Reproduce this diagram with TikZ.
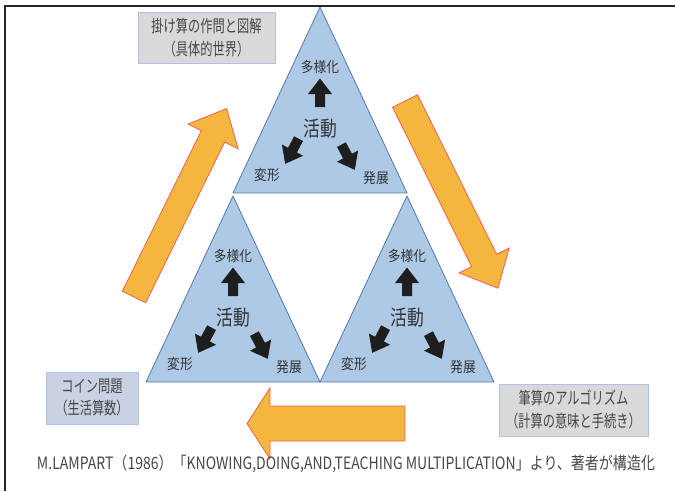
\documentclass[tikz,border=0pt]{standalone}
\usepackage{fontspec}
\usepackage{graphicx}
\setmainfont{Noto Sans CJK JP}
\definecolor{triblue}{RGB}{173,201,229}
\definecolor{triedge}{RGB}{84,120,170}
\definecolor{oranfill}{RGB}{244,182,63}
\definecolor{oranedge}{RGB}{240,96,80}
\definecolor{graybox}{RGB}{217,217,217}
\definecolor{bluebox}{RGB}{200,210,226}
\definecolor{boxedge}{RGB}{170,196,230}
\definecolor{txt}{RGB}{70,70,70}
\definecolor{blkfill}{RGB}{30,30,30}
\newcommand{\myxs}[2]{\scalebox{#1}[1]{#2}}
\tikzset{
  tri/.style={fill=triblue, draw=triedge, line width=0.8pt, line join=round},
  oarrow/.style={fill=oranfill, draw=oranedge, line width=0.8pt, line join=miter},
  boxg/.style={fill=graybox, draw=boxedge, line width=0.7pt, inner sep=0pt, align=center, text=txt, font=\fontsize{17}{23}\selectfont},
  boxb/.style={fill=bluebox, draw=boxedge, line width=0.7pt, inner sep=0pt, align=center, text=txt, font=\fontsize{17}{22}\selectfont},
  small/.style={text=black!80, inner sep=0pt, font=\fontsize{14.5}{14.5}\selectfont},
  big/.style={text=black!80, inner sep=0pt, font=\fontsize{21}{21}\selectfont},
  pics/blkarrow/.style={code={
    \fill[blkfill] (0,-14.5) -- (12,1) -- (5,1) -- (5,14) -- (-5,14) -- (-5,1) -- (-12,1) -- cycle;
  }},
  pics/unit/.style={code={
    \draw[tri] (0,0) -- (87,186) -- (-87,186) -- cycle;
    \node[small] (#1-a) at (0,60) {\myxs{0.88}{多様化}};
    \pic at (0,86) {blkarrow};
    \node[big] (#1-b) at (0,122) {\myxs{0.8}{活動}};
    \pic[rotate=152] at (-28,144) {blkarrow};
    \pic[rotate=-152] at (28,150) {blkarrow};
    \node[small] (#1-c) at (-53,168) {\myxs{0.88}{変形}};
    \node[small] (#1-d) at (56,171) {\myxs{0.88}{発展}};
  }}
}
\begin{document}
\begin{tikzpicture}[x=1pt,y=-1pt]
\useasboundingbox (0,0) rectangle (675,491);
% frame
\draw[line width=1.6pt, black!85] (5,491) -- (5,6) -- (675,6);
% triangles
\pic at (320,7) {unit=t};
\pic at (233,196) {unit=l};
\pic at (407,196) {unit=r};
% orange arrows
\begin{scope}[shift={(134,297)}, rotate=63.8]
\draw[oarrow] (0,-13) -- (179,-13) -- (179,-28) -- (210,0) -- (179,28) -- (179,13) -- (0,13) -- cycle;
\end{scope}
\begin{scope}[shift={(405,101)}, rotate=-63.6]
\draw[oarrow] (0,-14) -- (178,-14) -- (178,-28) -- (209,0) -- (178,28) -- (178,14) -- (0,14) -- cycle;
\end{scope}
\draw[oarrow] (405,406) -- (270,406) -- (270,388) -- (247,423.5) -- (270,459) -- (270,441) -- (405,441) -- cycle;
% boxes
\node[boxg, minimum width=137pt, minimum height=51pt] (b1) at (206.5,37.5)
  {\myxs{0.72}{掛け算の作問と図解}\\\myxs{0.72}{（具体的世界）}};
\node[boxb, minimum width=92pt, minimum height=52pt] (b2) at (92,398)
  {\myxs{0.72}{コイン問題}\\\myxs{0.72}{（生活算数）}};
\node[boxg, minimum width=149pt, minimum height=52pt] (b3) at (573.5,410)
  {\myxs{0.72}{筆算のアルゴリズム}\\\myxs{0.72}{（計算の意味と手続き）}};
% caption
\node[text=txt, inner sep=0pt] (cap) at (346,464)
  {\resizebox{618pt}{\height}{\fontsize{17}{17}\selectfont M.LAMPART（1986）「KNOWING,DOING,AND,TEACHING MULTIPLICATION」より、著者が構造化}};
\end{tikzpicture}
\end{document}
